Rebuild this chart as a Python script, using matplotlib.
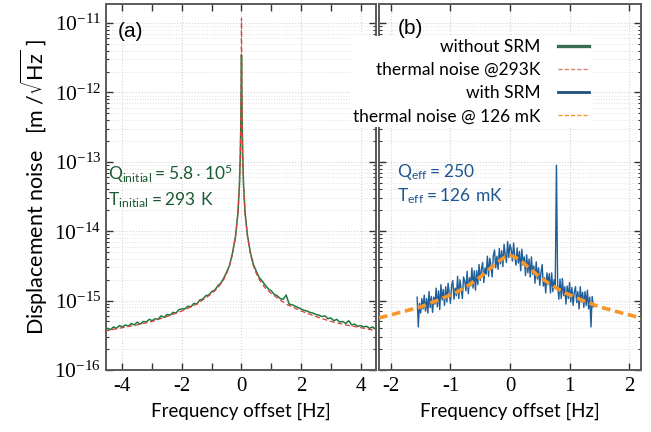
import numpy as np
import matplotlib
matplotlib.use("Agg")
import matplotlib.pyplot as plt
from matplotlib.lines import Line2D
from matplotlib.ticker import LogLocator, MultipleLocator, NullFormatter, FixedLocator

plt.rcParams['font.family'] = 'Liberation Serif'
plt.rcParams['mathtext.fontset'] = 'dejavusans'
SANS = 'Lato'

# ----------- data (values are log10 of the displacement noise, m/sqrt(Hz)) -----------
# (a) thermal noise @293K
red_f = [-4.6, -4.0, -3.5, -3.0, -2.5, -2.0, -1.5, -1.0, -0.8, -0.6, -0.5, -0.4, -0.3,
         -0.2, -0.12, -0.07, -0.04, -0.02, -0.01, -0.005, 0.0,
         0.005, 0.01, 0.02, 0.04, 0.07, 0.12, 0.2,
         0.3, 0.4, 0.5, 0.6, 0.8, 1.0, 1.5, 2.0, 2.5, 3.0, 3.5, 4.0, 4.6]
red_log = [-15.44, -15.39, -15.35, -15.30, -15.23, -15.15, -15.05, -14.90, -14.82, -14.70, -14.61, -14.50, -14.33,
           -14.08, -13.75, -13.35, -12.90, -12.35, -11.80, -11.30, -10.93,
           -11.30, -11.80, -12.35, -12.90, -13.35, -13.75, -14.08,
           -14.33, -14.50, -14.61, -14.70, -14.82, -14.90, -15.05, -15.15, -15.23, -15.30, -15.35, -15.39, -15.44]

# (a) without SRM, measured: left wing -4.6..-0.3, centre, right wing 0.3..4.6
green_left_log = [-15.43, -15.40, -15.42, -15.38, -15.40, -15.36,
                  -15.38, -15.35, -15.37, -15.33, -15.35, -15.31, -15.34, -15.30, -15.31, -15.27,
                  -15.29, -15.26, -15.27, -15.22, -15.24, -15.20, -15.21, -15.17, -15.18, -15.13,
                  -15.12, -15.12, -15.08, -15.09, -15.04, -15.05, -14.99, -14.98, -14.93, -14.92,
                  -14.87, -14.85, -14.79, -14.75, -14.68, -14.59, -14.49, -14.31]
green_mid_f = [-0.2, -0.12, -0.07, -0.04, -0.02, -0.01, 0.0, 0.01, 0.02, 0.04, 0.07, 0.12, 0.2]
green_mid_log = [-14.07, -13.74, -13.34, -12.90, -12.36, -11.85, -11.46,
                 -11.85, -12.36, -12.90, -13.34, -13.73, -14.06]
green_right_log = [-14.31, -14.48, -14.58, -14.67, -14.72, -14.78, -14.83, -14.86,
                   -14.91, -14.93, -14.97, -14.98, -14.92, -15.05, -15.06, -15.08, -15.10, -15.12,
                   -15.14, -15.15, -15.17, -15.18, -15.20, -15.21, -15.23, -15.22, -15.26, -15.25,
                   -15.29, -15.27, -15.31, -15.30, -15.33, -15.29, -15.35, -15.34, -15.37, -15.36,
                   -15.38, -15.37, -15.40, -15.38, -15.41, -15.40]

# (b) thermal noise @ 126 mK, orange dashed
orange_f = [-2.2, -1.8, -1.5, -1.2, -0.9, -0.7, -0.5, -0.35, -0.2, -0.1, 0.0,
            0.1, 0.2, 0.35, 0.5, 0.7, 0.9, 1.2, 1.5, 1.8, 2.2]
orange_log = [-15.25, -15.16, -15.09, -14.99, -14.88, -14.78, -14.66, -14.55, -14.44, -14.38, -14.35,
              -14.38, -14.44, -14.55, -14.66, -14.78, -14.88, -14.99, -15.09, -15.16, -15.25]

# (b) with SRM, measured from -1.56 to 1.40 Hz (0.02 Hz steps)
blue_log = [-14.95, -15.38, -15.04, -15.18, -14.97,
            -15.12, -14.92, -15.15, -14.97, -15.18,
            -14.87, -15.10, -14.94, -15.17, -14.95,
            -15.05, -14.82, -15.09, -14.86, -15.13,
            -14.77, -14.99, -14.84, -15.07, -14.80,
            -15.02, -14.75, -14.90, -15.04, -14.78,
            -14.71, -14.98, -14.82, -14.93, -14.65,
            -14.97, -14.70, -14.83, -14.97, -14.66,
            -14.72, -14.86, -14.58, -14.90, -14.67,
            -14.79, -14.53, -14.82, -14.57, -14.85,
            -14.57, -14.77, -14.48, -14.71, -14.55,
            -14.45, -14.74, -14.53, -14.62, -14.36,
            -14.65, -14.39, -14.49, -14.66, -14.35,
            -14.27, -14.53, -14.36, -14.55, -14.25,
            -14.47, -14.28, -14.51, -14.19, -14.34,
            -14.45, -14.15, -14.38, -14.19, -14.26,
            -14.43, -14.17, -14.36, -14.49, -14.24,
            -14.46, -14.29, -14.57, -14.26, -14.49,
            -14.37, -14.64, -14.34, -14.60, -14.40,
            -14.66, -14.37, -14.62, -14.50, -14.75,
            -14.44, -14.69, -14.53, -14.78, -14.60,
            -14.48, -14.79, -14.67, -14.89, -14.60,
            -14.77, -14.61, -14.89, -14.60, -14.87,
            -14.70, -14.78, -13.05, -14.77, -14.98,
            -14.69, -14.97, -14.68, -14.93, -14.80,
            -15.05, -14.79, -14.97, -14.74, -15.02,
            -14.81, -15.07, -14.88, -14.80, -15.03,
            -14.87, -15.12, -14.80, -15.02, -14.88,
            -15.10, -14.87, -15.07, -14.85, -15.12,
            -14.95, -15.38, -14.94, -15.09]

# ----------- colours -----------
c_green = '#1d7a3e'
c_red = '#d8403c'
c_blue = '#1f5e98'
c_orange = '#f7962a'
c_txt_green = '#1b5a33'
c_txt_blue = '#1f5590'

fig = plt.figure(figsize=(6.51, 4.32), dpi=100)
W, H = 651.0, 432.0
bot, top = 370.0, 4.0
ax1 = fig.add_axes([106 / W, 1 - bot / H, (375.5 - 106) / W, (bot - top) / H])
ax2 = fig.add_axes([379 / W, 1 - bot / H, (641 - 379) / W, (bot - top) / H])

# left panel
green_f = np.concatenate([np.linspace(-4.6, -0.3, len(green_left_log)), green_mid_f,
                          np.linspace(0.3, 4.6, len(green_right_log))])
green_vals = 10.0 ** np.array(green_left_log + green_mid_log + green_right_log)
ax1.plot(green_f, green_vals, color=c_green, lw=1.1, zorder=3)
ax1.plot(red_f, 10.0 ** np.array(red_log), color=c_red, lw=0.9,
         linestyle=(0, (4, 2.2)), zorder=4)

# right panel
blue_f = np.linspace(-1.56, 1.40, len(blue_log))
ax2.plot(blue_f, 10.0 ** np.array(blue_log), color=c_blue, lw=1.0, zorder=3)
ax2.plot(orange_f, 10.0 ** np.array(orange_log), color=c_orange, lw=2.6,
         linestyle=(0, (2.4, 1.3)), zorder=4)

for ax in (ax1, ax2):
    ax.set_yscale('log')
    ax.set_ylim(1e-16, 10 ** -10.726)
    ax.yaxis.set_major_locator(FixedLocator([1e-16, 1e-15, 1e-14, 1e-13, 1e-12, 1e-11]))
    ax.yaxis.set_minor_locator(LogLocator(base=10, subs=np.arange(2, 10), numticks=12))
    ax.yaxis.set_minor_formatter(NullFormatter())
    ax.tick_params(which='both', direction='in', top=True, right=True,
                   color='#333333')
    ax.tick_params(axis='y', labelsize=15.5)
    ax.tick_params(axis='x', labelsize=15, pad=5)
    ax.tick_params(which='major', length=5, width=1)
    ax.tick_params(which='minor', length=2.5, width=0.8)
    for s in ax.spines.values():
        s.set_color('#5a5a5a')
        s.set_linewidth(1.4)
    ax.grid(True, which='major', axis='both', color='#d4d4d4', linestyle=':', linewidth=0.8)
    ax.grid(True, which='minor', axis='y', color='#e0e0e0', linestyle=':', linewidth=0.7)
    ax.set_axisbelow(True)
    ax.set_xlabel('Frequency offset [Hz]', family=SANS, fontsize=13.5, labelpad=5)

ax1.set_xlim(-4.55, 4.5)
ax1.xaxis.set_major_locator(FixedLocator([-4, -2, 0, 2, 4]))
ax1.xaxis.set_minor_locator(MultipleLocator(1))
ax1.tick_params(axis='x', which='minor', length=5, width=1)
ax1.set_xticklabels(['-4', '-2', '0', '2', '4'])

ax2.set_xlim(-2.2, 2.2)
ax2.xaxis.set_major_locator(FixedLocator([-2, -1, 0, 1, 2]))
ax2.set_xticklabels(['-2', '-1', '0', '1', '2'])
ax2.tick_params(axis='y', labelleft=False)
ax2.tick_params(axis='x', which='minor', bottom=False, top=False)

ax1.set_ylabel(r'Displacement noise   [m /$\sqrt{\mathregular{Hz}}$ ]',
               family=SANS, fontsize=15.5, labelpad=3)

# panel annotations
ax1.text(0.045, 0.925, '(a)', transform=ax1.transAxes, family='Liberation Sans',
         fontsize=15, va='center', ha='left')
ax1.text(0.008, 0.535, r'$\mathregular{Q_{initial}= 5.8\cdot10^{5}}$', transform=ax1.transAxes,
         family=SANS, fontsize=12.5, color=c_txt_green, va='center', ha='left')
ax1.text(0.008, 0.465, r'$\mathregular{T_{initial}= 293\ K}$', transform=ax1.transAxes,
         family=SANS, fontsize=12.5, color=c_txt_green, va='center', ha='left')
ax2.text(0.07, 0.54, r'$\mathregular{Q_{eff}= 250}$', transform=ax2.transAxes,
         family=SANS, fontsize=12.5, color=c_txt_blue, va='center', ha='left')
ax2.text(0.07, 0.475, r'$\mathregular{T_{eff}=126\ mK}$', transform=ax2.transAxes,
         family=SANS, fontsize=12.5, color=c_txt_blue, va='center', ha='left')

# legend
handles = [Line2D([], [], color='#3a6b52', lw=2.4),
           Line2D([], [], color='#d9826f', lw=1.0, linestyle=(0, (3, 1.5))),
           Line2D([], [], color='#1d4f7c', lw=2.0),
           Line2D([], [], color=c_orange, lw=1.0, linestyle=(0, (3, 1.5)))]
labels = ['without SRM', 'thermal noise @293K', 'with SRM', 'thermal noise @ 126 mK']
leg = fig.legend(handles, labels, loc='upper right', bbox_to_anchor=(592 / W, 1 - 36 / H),
                 markerfirst=False, frameon=True, facecolor='white', edgecolor='none',
                 framealpha=1, fancybox=False, borderpad=0.15, borderaxespad=0,
                 handlelength=1.8, handletextpad=1.0, labelspacing=0.42,
                 prop={'family': SANS, 'size': 12.5})
leg.set_zorder(10)

# (b) label sits above the legend box
fig.text(398 / W, 1 - 29 / H, '(b)', family='Liberation Sans', fontsize=15,
         va='center', ha='left', zorder=20)

fig.savefig('out.png', dpi=100)
